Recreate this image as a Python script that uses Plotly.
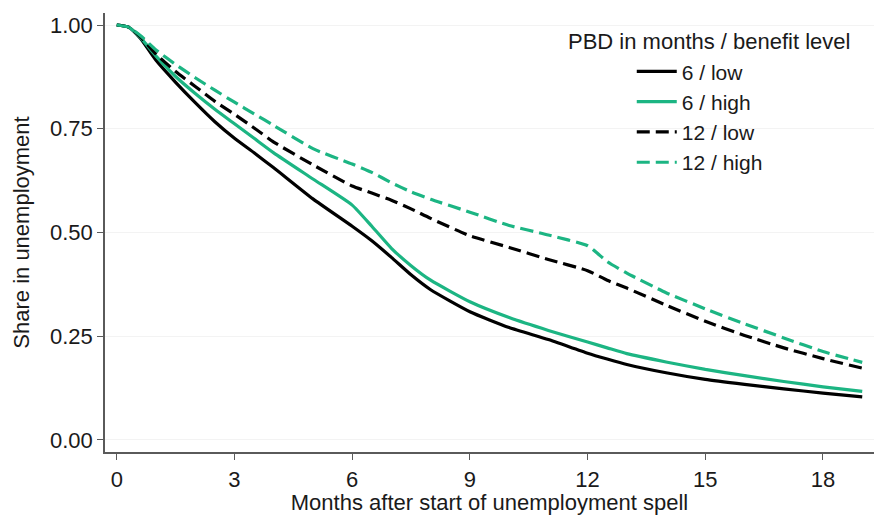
import plotly.graph_objects as go

# Months since start of the unemployment spell
months = [0, 0.3, 0.6, 1, 1.5, 2, 2.5, 3, 3.5, 4, 5, 6, 6.5, 7, 7.5, 8, 9, 10,
          11, 12, 12.5, 13, 14, 15, 16, 17, 18, 19]

# Share still unemployed, by potential benefit duration (PBD) / benefit level
low_6 = [1.0, 0.995, 0.968, 0.915, 0.862, 0.813, 0.767, 0.727, 0.692, 0.656,
         0.581, 0.515, 0.480, 0.440, 0.398, 0.362, 0.309, 0.271, 0.242, 0.209,
         0.195, 0.182, 0.162, 0.146, 0.134, 0.123, 0.113, 0.104]
high_6 = [1.0, 0.995, 0.970, 0.925, 0.876, 0.835, 0.797, 0.762, 0.727, 0.692,
          0.629, 0.566, 0.515, 0.462, 0.420, 0.385, 0.333, 0.295, 0.264, 0.236,
          0.222, 0.208, 0.188, 0.170, 0.155, 0.141, 0.128, 0.117]
low_12 = [1.0, 0.995, 0.972, 0.930, 0.888, 0.852, 0.816, 0.785, 0.752, 0.718,
          0.663, 0.612, 0.595, 0.578, 0.557, 0.534, 0.492, 0.464, 0.435, 0.408,
          0.385, 0.366, 0.325, 0.286, 0.252, 0.222, 0.196, 0.173]
high_12 = [1.0, 0.995, 0.975, 0.940, 0.905, 0.873, 0.843, 0.814, 0.786, 0.758,
           0.702, 0.665, 0.645, 0.620, 0.598, 0.580, 0.549, 0.517, 0.494, 0.468,
           0.430, 0.402, 0.355, 0.316, 0.280, 0.246, 0.213, 0.187]

series_names = ["6 / low", "6 / high", "12 / low", "12 / high"]
legend_title = "PBD in months / benefit level"
x_ticks = [0, 3, 6, 9, 12, 15, 18]
y_ticks = [0, 0.25, 0.5, 0.75, 1.0]
y_tick_text = ["0.00", "0.25", "0.50", "0.75", "1.00"]

BLACK = "#000000"
GREEN = "#1cb583"
AXIS = "#5a5a5a"
TEXT = "#1a1a1a"

styles = [(BLACK, "solid"), (GREEN, "solid"), (BLACK, "13px,6px"), (GREEN, "13px,6px")]

fig = go.Figure()
for name, ys, (color, dash) in zip(series_names, [low_6, high_6, low_12, high_12], styles):
    fig.add_trace(go.Scatter(
        x=months, y=ys, mode="lines", name=name,
        line=dict(color=color, width=3.2, dash=dash, shape="spline", smoothing=0.5),
    ))

font_family = "Liberation Sans, Arial, sans-serif"

# Legend heading, centred over the legend entries
fig.add_annotation(
    text=legend_title, xref="paper", yref="paper", x=0.785, y=0.934,
    xanchor="center", yanchor="middle", showarrow=False,
    font=dict(size=22, color=TEXT),
)

fig.update_layout(
    width=874, height=515,
    margin=dict(l=105, r=0, t=13, b=63, autoexpand=False),
    paper_bgcolor="white", plot_bgcolor="white",
    font=dict(family=font_family, size=22, color=TEXT),
    showlegend=True,
    legend=dict(
        x=0.685, y=0.913, xanchor="left", yanchor="top",
        bgcolor="rgba(0,0,0,0)",
        font=dict(size=21, color=TEXT),
        itemwidth=40,
    ),
    xaxis=dict(
        range=[-0.3, 19.3], tickvals=x_ticks, ticks="outside", ticklen=6,
        tickcolor=AXIS, tickwidth=1.2, ticklabelstandoff=1,
        showline=True, linecolor=AXIS, linewidth=1.5,
        showgrid=False, zeroline=False,
        title=dict(text="Months after start of unemployment spell",
                   font=dict(size=22), standoff=6),
        tickfont=dict(size=22),
    ),
    yaxis=dict(
        range=[-0.029, 1.029], tickvals=y_ticks, ticktext=y_tick_text,
        ticks="outside", ticklen=6, tickcolor=AXIS, tickwidth=1.2,
        showline=True, linecolor=AXIS, linewidth=1.5,
        showgrid=True, gridcolor="#f3f3f3", gridwidth=1, zeroline=False,
        title=dict(text="Share in unemployment", font=dict(size=22), standoff=14),
        tickfont=dict(size=22),
    ),
)

fig.write_html("out.html", config={"displayModeBar": False})
